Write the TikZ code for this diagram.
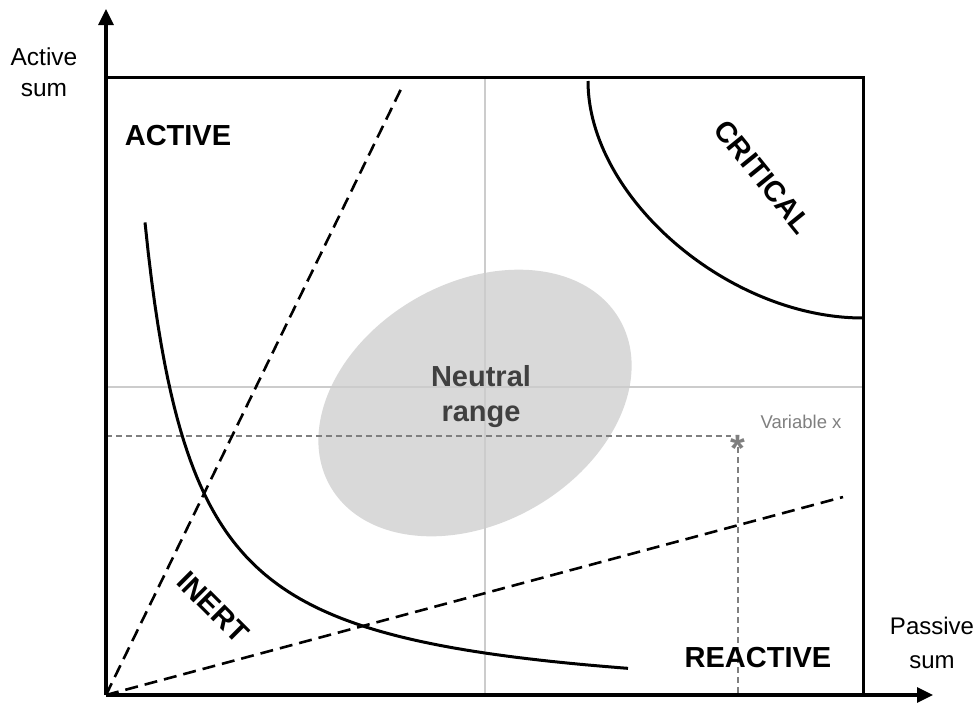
\documentclass[tikz,border=0pt]{standalone}
\usepackage{fontspec}
\setmainfont{Liberation Sans}
\usetikzlibrary{arrows.meta}
\definecolor{gridgray}{HTML}{CCCCCC}
\definecolor{ellgray}{HTML}{D9D9D9}
\definecolor{vargray}{HTML}{7F7F7F}
\definecolor{textdark}{HTML}{404040}
\tikzset{
  axisline/.style={line width=3.2pt,-{Triangle[length=16pt,width=15pt]}},
  boxline/.style={line width=3pt},
  gridline/.style={line width=1.3pt,draw=gridgray},
  zoneline/.style={line width=2.6pt,dash pattern=on 13pt off 7pt},
  curveline/.style={line width=3pt},
  varline/.style={line width=1.5pt,draw=vargray,dash pattern=on 6pt off 4pt},
  zonelabel/.style={inner sep=0pt,font=\fontsize{29}{33}\selectfont\bfseries},
  axislabel/.style={inner sep=0pt,align=center,font=\fontsize{24.5}{31}\selectfont},
}
\begin{document}
\begin{tikzpicture}[x=1pt,y=-1pt]
\useasboundingbox (0,0) rectangle (979,704);
% key coordinates
\coordinate (O) at (106,695);
\coordinate (Ytip) at (106,9);
\coordinate (Xtip) at (933,695);
\coordinate (TL) at (106,77);
\coordinate (TR) at (863,77);
\coordinate (BR) at (863,695);
\coordinate (GT) at (485,77);
\coordinate (GB) at (485,695);
\coordinate (GL) at (106,387);
\coordinate (GR) at (863,387);
\coordinate (D1) at (402,87);
\coordinate (D2) at (843,497);
\coordinate (C1) at (588,81);
\coordinate (C2) at (863,318);
% neutral ellipse
\fill[ellgray,rotate around={30:(475,403)}] (475,403) ellipse (167 and 120);
% grid lines
\draw[gridline] (GT) -- (GB);
\draw[gridline] (GL) -- (GR);
% variable x
\node[inner sep=0pt,anchor=base,text=vargray,font=\fontsize{38}{38}\selectfont\bfseries] (star) at (738,461) {*};
\coordinate (HL) at (106,436);
\coordinate (HR) at (731,436);
\coordinate (VT) at (738,447);
\coordinate (VB) at (738,695);
\draw[varline] (HL) -- (HR);
\draw[varline] (VT) -- (VB);
\node[inner sep=0pt,anchor=base,text=vargray,font=\fontsize{18.5}{20}\selectfont] (varx) at (801,428.3) {Variable x};
% box
\draw[boxline] (TL) -- (TR) -- (BR);
% axes
\draw[axisline] (O) -- (Ytip);
\draw[axisline] (O) -- (Xtip);
% dashed zone lines
\draw[zoneline] (O) -- (D1);
\draw[zoneline] (O) -- (D2);
% critical arc
\draw[curveline] (C1) .. controls +(0,116) and +(-135,0) .. (C2);
% inert curve
\draw[curveline] plot[domain=145:628,samples=150,variable=\t] ({\t},{705-316*pow((\t-90)/80,-1.13)});
% labels
\node[zonelabel] (active) at (178,136) {ACTIVE};
\node[zonelabel] (reactive) at (758,658) {REACTIVE};
\node[zonelabel,rotate=-51] (critical) at (763,177) {CRITICAL};
\node[zonelabel,rotate=-45] (inert) at (213,607) {INERT};
\node[zonelabel,align=center,text=textdark,font=\fontsize{29}{35}\selectfont\bfseries] (neutral) at (481,397) {Neutral\\range};
\node[axislabel] (ylab) at (44,72.5) {Active\\sum};
\node[axislabel,font=\fontsize{24}{34}\selectfont] (xlab) at (932,643) {Passive\\sum};
\end{tikzpicture}
\end{document}
